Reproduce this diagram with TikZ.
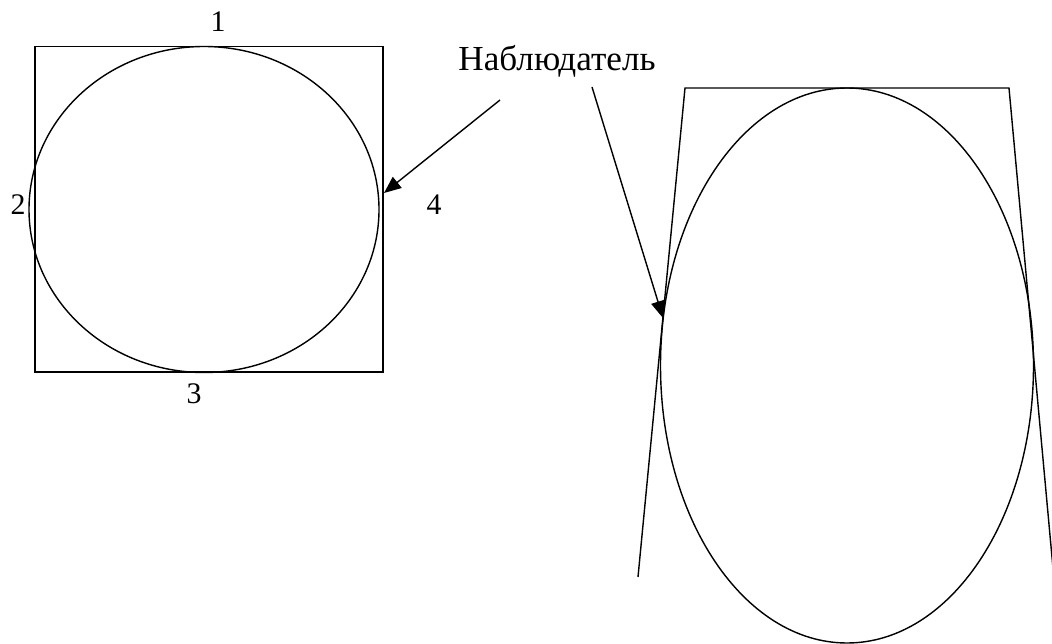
\documentclass[tikz,border=0pt]{standalone}
\usepackage{fontspec}
\setmainfont{Liberation Serif}
\usetikzlibrary{arrows.meta}
\begin{document}
\begin{tikzpicture}[line width=0.8pt,
    metka/.style={anchor=base, font=\fontsize{17}{20}\selectfont},
    strelka/.style={-{Triangle[length=0.34cm, width=0.28cm]}}]
    \useasboundingbox (0,0) rectangle (21.04,-12.88);

    % Вид сверху: квадрат и вписанный эллипс
    \draw (0.70,-0.93) rectangle (7.66,-7.44);
    \draw (4.08,-4.19) ellipse (3.50 and 3.26);

    % Номера сторон
    \node[metka] (n1) at (4.36,-0.64) {1};
    \node[metka] (n2) at (0.36,-4.30) {2};
    \node[metka] (n3) at (3.88,-8.06) {3};
    \node[metka] (n4) at (8.68,-4.30) {4};

    % Вид сбоку: трапеция и вытянутый эллипс
    \draw (12.76,-11.54) -- (13.70,-1.76) -- (20.18,-1.76) -- (21.10,-11.80);
    \draw (16.94,-7.31) ellipse (3.73 and 5.55);

    % Наблюдатель
    \node[anchor=base, font=\fontsize{20}{24}\selectfont] (nabl) at (11.14,-1.42) {Наблюдатель};
    \coordinate (nablA) at (10.00,-2.00);
    \coordinate (nablB) at (11.84,-1.74);
    \coordinate (cel4) at (7.68,-3.86);
    \coordinate (celB) at (13.26,-6.36);

    % Стрелки
    \draw[strelka] (nablA) -- (cel4);
    \draw[strelka] (nablB) -- (celB);
\end{tikzpicture}
\end{document}
